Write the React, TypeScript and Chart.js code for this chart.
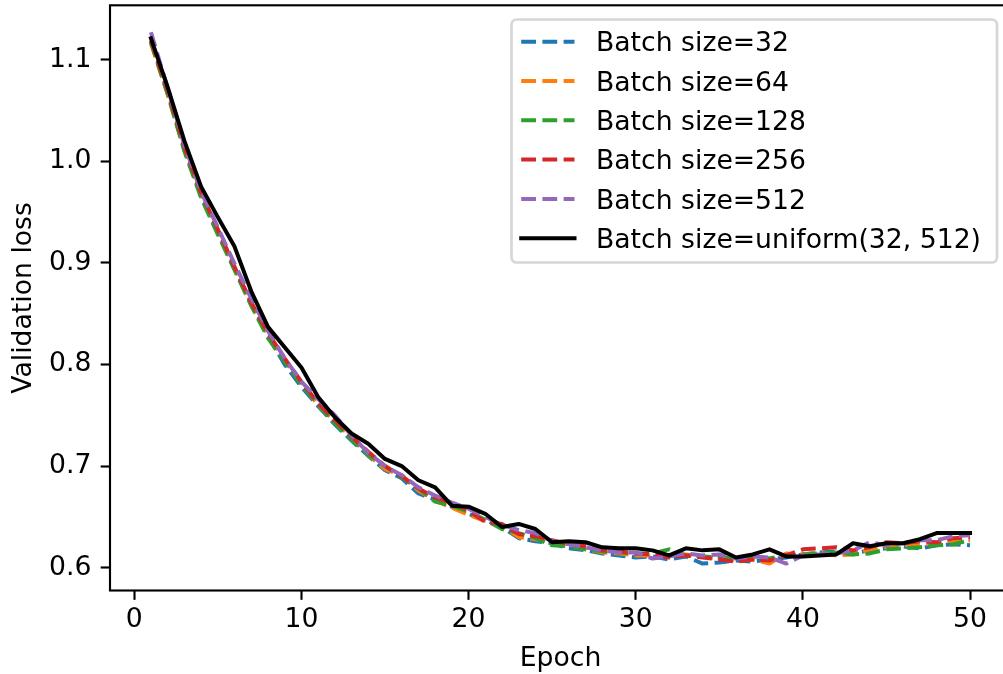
import { useEffect, useRef } from "react";
import { Chart, registerables } from "chart.js";

Chart.register(...registerables);

const epochs = [
  1, 2, 3, 4, 5, 6, 7, 8, 9, 10, 11, 12, 13, 14, 15, 16, 17, 18, 19, 20, 21, 22, 23, 24, 25,
  26, 27, 28, 29, 30, 31, 32, 33, 34, 35, 36, 37, 38, 39, 40, 41, 42, 43, 44, 45, 46, 47, 48, 49, 50,
];

const bs32 = [
  1.118, 1.068, 1.012, 0.966, 0.93, 0.894, 0.86, 0.828, 0.8, 0.778, 0.759, 0.741, 0.725, 0.71, 0.696,
  0.688, 0.673, 0.667, 0.66, 0.653, 0.647, 0.64, 0.629, 0.626, 0.624, 0.619, 0.617, 0.614, 0.612, 0.61,
  0.611, 0.608, 0.611, 0.604, 0.605, 0.607, 0.606, 0.608, 0.61, 0.613, 0.615, 0.616, 0.614, 0.617, 0.619,
  0.621, 0.619, 0.622, 0.623, 0.622,
];
const bs64 = [
  1.116, 1.066, 1.011, 0.967, 0.932, 0.895, 0.858, 0.829, 0.804, 0.782, 0.76, 0.744, 0.728, 0.711, 0.697,
  0.691, 0.676, 0.666, 0.659, 0.652, 0.646, 0.641, 0.63, 0.628, 0.625, 0.621, 0.618, 0.615, 0.614, 0.612,
  0.612, 0.611, 0.613, 0.611, 0.609, 0.607, 0.608, 0.604, 0.614, 0.613, 0.615, 0.612, 0.613, 0.618, 0.62,
  0.622, 0.623, 0.624, 0.627, 0.627,
];
const bs128 = [
  1.117, 1.066, 1.01, 0.964, 0.928, 0.893, 0.858, 0.826, 0.803, 0.78, 0.761, 0.742, 0.726, 0.711, 0.7,
  0.689, 0.678, 0.665, 0.661, 0.655, 0.647, 0.638, 0.634, 0.629, 0.622, 0.621, 0.618, 0.616, 0.615, 0.614,
  0.614, 0.618, 0.612, 0.611, 0.61, 0.61, 0.611, 0.609, 0.612, 0.613, 0.614, 0.615, 0.613, 0.614, 0.618,
  0.619, 0.62, 0.622, 0.623, 0.627,
];
const bs256 = [
  1.119, 1.069, 1.014, 0.969, 0.933, 0.896, 0.861, 0.831, 0.806, 0.783, 0.762, 0.745, 0.729, 0.714, 0.7,
  0.69, 0.678, 0.669, 0.664, 0.656, 0.645, 0.643, 0.633, 0.631, 0.627, 0.623, 0.621, 0.617, 0.616, 0.614,
  0.613, 0.61, 0.612, 0.61, 0.608, 0.606, 0.608, 0.607, 0.612, 0.618, 0.619, 0.62, 0.617, 0.62, 0.625,
  0.624, 0.626, 0.625, 0.629, 0.63,
];
const bs512 = [
  1.127, 1.072, 1.016, 0.97, 0.935, 0.899, 0.865, 0.833, 0.806, 0.783, 0.766, 0.75, 0.73, 0.713, 0.7,
  0.691, 0.679, 0.671, 0.664, 0.658, 0.65, 0.642, 0.637, 0.634, 0.626, 0.623, 0.62, 0.617, 0.615, 0.615,
  0.609, 0.611, 0.614, 0.612, 0.613, 0.609, 0.611, 0.61, 0.604, 0.612, 0.613, 0.614, 0.617, 0.625, 0.622,
  0.624, 0.627, 0.627, 0.631, 0.632,
];
const bsUniform = [
  1.121, 1.073, 1.02, 0.975, 0.945, 0.916, 0.872, 0.837, 0.817, 0.797, 0.768, 0.748, 0.732, 0.722, 0.707,
  0.7, 0.686, 0.679, 0.661, 0.66, 0.653, 0.64, 0.643, 0.638, 0.625, 0.626, 0.625, 0.62, 0.619, 0.619,
  0.617, 0.612, 0.619, 0.617, 0.618, 0.61, 0.613, 0.618, 0.611, 0.611, 0.612, 0.613, 0.624, 0.621, 0.624,
  0.624, 0.628, 0.634, 0.634, 0.634,
];

const seriesLabels = [
  "Batch size=32",
  "Batch size=64",
  "Batch size=128",
  "Batch size=256",
  "Batch size=512",
  "Batch size=uniform(32, 512)",
];
const seriesColors = ["#1f77b4", "#ff7f0e", "#2ca02c", "#d62728", "#9467bd", "#000000"];
const seriesValues = [bs32, bs64, bs128, bs256, bs512, bsUniform];
const seriesDashed = [true, true, true, true, true, false];

const xTicks = [0, 10, 20, 30, 40, 50];
const yTicks = [0.6, 0.7, 0.8, 0.9, 1.0, 1.1];

const FAMILY = "'DejaVu Sans', sans-serif";
const FS = 26.67;
const LW = 4;
const DASH = [14.8, 6.4];

const framePlugin = {
  id: "frameAndLegend",
  afterDraw(chart: any) {
    const { ctx, chartArea: a } = chart;
    ctx.save();
    // spines
    ctx.strokeStyle = "#000";
    ctx.lineWidth = 2.13;
    ctx.setLineDash([]);
    ctx.strokeRect(a.left, a.top, a.right - a.left, a.bottom - a.top);

    // legend
    const x0 = 511.5, y0 = 19.5, x1 = 997, y1 = 262.5, r = 5.3;
    ctx.beginPath();
    ctx.moveTo(x0 + r, y0);
    ctx.lineTo(x1 - r, y0);
    ctx.arcTo(x1, y0, x1, y0 + r, r);
    ctx.lineTo(x1, y1 - r);
    ctx.arcTo(x1, y1, x1 - r, y1, r);
    ctx.lineTo(x0 + r, y1);
    ctx.arcTo(x0, y1, x0, y1 - r, r);
    ctx.lineTo(x0, y0 + r);
    ctx.arcTo(x0, y0, x0 + r, y0, r);
    ctx.closePath();
    ctx.fillStyle = "rgba(255,255,255,0.8)";
    ctx.fill();
    ctx.strokeStyle = "rgba(204,204,204,0.8)";
    ctx.lineWidth = 2.67;
    ctx.stroke();

    const hx0 = 521.2, hx1 = 574.5, tx = 596;
    ctx.font = `${FS}px ${FAMILY}`;
    ctx.textBaseline = "alphabetic";
    ctx.textAlign = "left";
    chart.data.datasets.forEach((ds: any, i: number) => {
      const cy = 41.7 + i * 39.3;
      ctx.beginPath();
      ctx.strokeStyle = ds.borderColor;
      ctx.lineWidth = LW;
      if (seriesDashed[i]) {
        ctx.setLineDash(DASH);
        ctx.lineCap = "butt";
      } else {
        ctx.setLineDash([]);
        ctx.lineCap = "square";
      }
      ctx.moveTo(hx0, cy);
      ctx.lineTo(hx1, cy);
      ctx.stroke();
      ctx.setLineDash([]);
      ctx.fillStyle = "#000";
      ctx.fillText(ds.label, tx, cy + 9.7);
    });
    ctx.restore();
  },
};

export default function App() {
  const ref = useRef<HTMLCanvasElement>(null);

  useEffect(() => {
    const canvas = ref.current;
    if (!canvas) return;
    const n = seriesLabels.length;
    const chart = new Chart(canvas, {
      type: "line",
      data: {
        datasets: seriesLabels.map((label, i) => ({
          label,
          data: epochs.map((e, j) => ({ x: e, y: seriesValues[i][j] })),
          borderColor: seriesColors[i],
          backgroundColor: seriesColors[i],
          borderWidth: LW,
          borderDash: seriesDashed[i] ? DASH : [],
          borderCapStyle: seriesDashed[i] ? "butt" : "square",
          borderJoinStyle: "round",
          pointRadius: 0,
          pointHoverRadius: 0,
          tension: 0,
          fill: false,
          order: n - 1 - i,
        })),
      },
      options: {
        responsive: false,
        animation: false,
        devicePixelRatio: 1,
        layout: { padding: { left: 0, top: 5.3, right: 9, bottom: 0 } },
        plugins: { legend: { display: false }, tooltip: { enabled: false } },
        scales: {
          x: {
            type: "linear",
            min: -1.45,
            max: 52.45,
            afterBuildTicks: (s: any) => {
              s.ticks = xTicks.map((v) => ({ value: v }));
            },
            afterFit: (s: any) => {
              s.height = 83.5;
              s.paddingLeft = 0;
              s.paddingRight = 0;
            },
            ticks: {
              font: { family: FAMILY, size: FS },
              color: "#000",
              padding: 4.5,
              maxRotation: 0,
              autoSkip: false,
              callback: (v: any) => String(v),
            },
            grid: {
              display: true,
              drawOnChartArea: false,
              drawTicks: true,
              tickLength: 9.33,
              tickColor: "#000",
              tickWidth: 2.13,
            },
            border: { display: false },
            title: {
              display: true,
              text: "Epoch",
              color: "#000",
              font: { family: FAMILY, size: FS },
              padding: { top: 0, bottom: -1 },
            },
          },
          y: {
            type: "linear",
            min: 0.5775,
            max: 1.1535,
            afterBuildTicks: (s: any) => {
              s.ticks = yTicks.map((v) => ({ value: v }));
            },
            afterFit: (s: any) => {
              s.width = 110;
              s.paddingTop = 0;
              s.paddingBottom = 0;
            },
            ticks: {
              font: { family: FAMILY, size: FS },
              color: "#000",
              padding: 9.33,
              autoSkip: false,
              callback: (v: any) => Number(v).toFixed(1),
            },
            grid: {
              display: true,
              drawOnChartArea: false,
              drawTicks: true,
              tickLength: 9.33,
              tickColor: "#000",
              tickWidth: 2.13,
            },
            border: { display: false },
            title: {
              display: true,
              text: "Validation loss",
              color: "#000",
              font: { family: FAMILY, size: FS },
              padding: { top: 8, bottom: 0 },
            },
          },
        },
      },
      plugins: [framePlugin],
    } as any);
    return () => chart.destroy();
  }, []);

  return (
    <div
      style={{
        position: "fixed",
        left: 0,
        top: 0,
        width: 1003,
        height: 674,
        overflow: "hidden",
        background: "#fff",
      }}
    >
      <canvas ref={ref} width={1020} height={674} style={{ display: "block" }} />
    </div>
  );
}
